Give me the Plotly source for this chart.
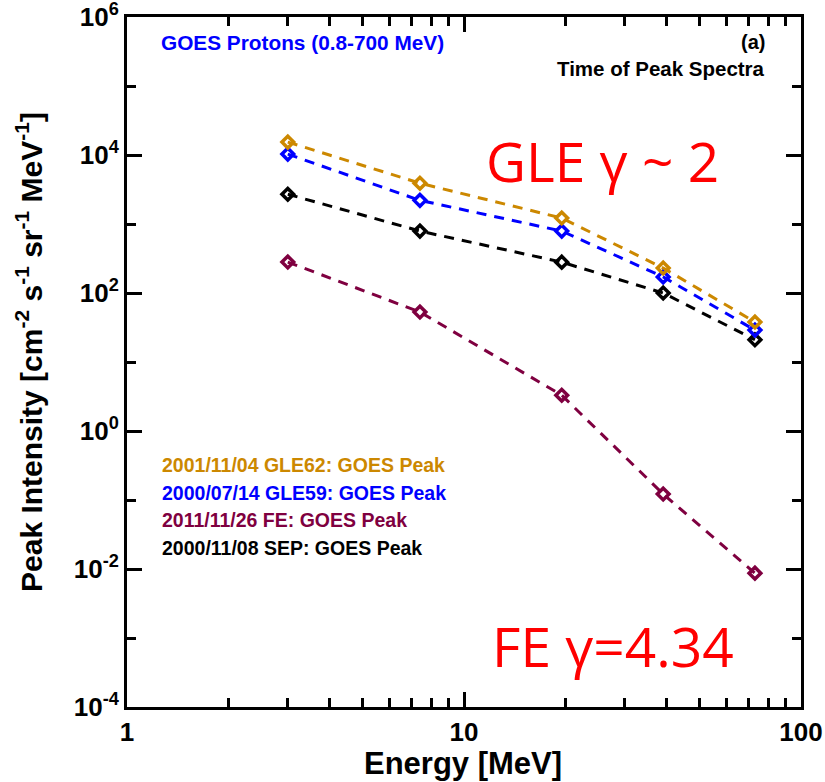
import plotly.graph_objects as go

# Proton energy channels (MeV)
energy = [3.0, 7.4, 19.5, 39.0, 73.0]

# Peak intensities [cm^-2 s^-1 sr^-1 MeV^-1]
gle62 = [1.54e4, 3.9e3, 1.22e3, 230, 38]
gle59 = [1.03e4, 2.2e3, 790, 171, 29]
fe_2011 = [281, 53, 3.3, 0.122, 0.0087]
sep_2000 = [2.7e3, 790, 280, 100, 21]

series_names = [
    "2001/11/04 GLE62: GOES Peak",
    "2000/07/14 GLE59: GOES Peak",
    "2011/11/26 FE: GOES Peak",
    "2000/11/08 SEP: GOES Peak",
]
series_values = [gle62, gle59, fe_2011, sep_2000]
series_colors = ["#CC8800", "#0000FF", "#7F0040", "#000000"]

y_tick_vals = [1e-4, 1e-2, 1e0, 1e2, 1e4, 1e6]
y_tick_text = ["<b>10<sup>-4</sup></b>", "<b>10<sup>-2</sup></b>", "<b>10<sup>0</sup></b>",
               "<b>10<sup>2</sup></b>", "<b>10<sup>4</sup></b>", "<b>10<sup>6</sup></b>"]
y_minor_vals = [1e-3, 1e-1, 1e1, 1e3, 1e5]

x_tick_vals = [1, 10, 100]
x_tick_text = ["<b>1</b>", "<b>10</b>", "<b>100</b>"]
x_minor_vals = [2, 3, 4, 5, 6, 7, 8, 9, 20, 30, 40, 50, 60, 70, 80, 90]

# Plot-area geometry in pixels (used to place the text labels)
PX_L, PX_R, PX_T, PX_B = 127, 801, 17, 707
PW, PH = PX_R - PX_L, PX_B - PX_T


def px(x):
    return (x - PX_L) / PW


def py(y):
    return (PX_B - y) / PH


fig = go.Figure()

# Draw back-to-front so the gold curve sits above the blue one
draw_order = [3, 2, 1, 0]
for i in draw_order:
    fig.add_trace(go.Scatter(
        x=energy, y=series_values[i], mode="lines+markers",
        name=series_names[i],
        line=dict(color=series_colors[i], width=3, dash="10px,8px"),
        marker=dict(symbol="diamond-open", size=9,
                    line=dict(color=series_colors[i], width=3.5)),
        showlegend=False,
    ))

label_font = "Liberation Sans, Arial, sans-serif"

# Series labels, stacked in the lower-left corner
legend_y = [465, 493, 520, 548]
for name, color, ly in zip(series_names, series_colors, legend_y):
    fig.add_annotation(
        xref="paper", yref="paper", x=px(160), y=py(ly),
        text=f"<b>{name}</b>", showarrow=False, xanchor="left", yanchor="middle",
        font=dict(family=label_font, size=19.5, color=color),
    )

fig.add_annotation(
    xref="paper", yref="paper", x=px(159), y=py(42),
    text="<b>GOES Protons (0.8-700 MeV)</b>", showarrow=False,
    xanchor="left", yanchor="middle",
    font=dict(family=label_font, size=20.8, color="#0000FF"),
)
fig.add_annotation(
    xref="paper", yref="paper", x=px(767), y=py(42),
    text="<b>(a)</b>", showarrow=False, xanchor="right", yanchor="middle",
    font=dict(family=label_font, size=20, color="#000000"),
)
fig.add_annotation(
    xref="paper", yref="paper", x=px(767), y=py(68),
    text="<b>Time of Peak Spectra</b>", showarrow=False,
    xanchor="right", yanchor="middle",
    font=dict(family=label_font, size=20.5, color="#000000"),
)

# Spectral index notes
fig.add_annotation(
    xref="paper", yref="paper", x=px(484), y=py(160),
    text="GLE γ ~ 2", showarrow=False, xanchor="left", yanchor="middle",
    font=dict(family="Open Sans, sans-serif", size=55, color="#FF0000"),
)
fig.add_annotation(
    xref="paper", yref="paper", x=px(490), y=py(645),
    text="FE γ=4.34", showarrow=False, xanchor="left", yanchor="middle",
    font=dict(family="Open Sans, sans-serif", size=55, color="#FF0000"),
)

# Axis titles
fig.add_annotation(
    xref="paper", yref="paper", x=px(29), y=py(352),
    text="<b>Peak Intensity [cm<sup>-2</sup> s<sup>-1</sup> sr<sup>-1</sup> MeV<sup>-1</sup>]</b>",
    showarrow=False, textangle=-90, xanchor="center", yanchor="middle",
    font=dict(family=label_font, size=30, color="#000000"),
)
fig.add_annotation(
    xref="paper", yref="paper", x=px(463), y=py(763),
    text="<b>Energy [MeV]</b>", showarrow=False, xanchor="center", yanchor="middle",
    font=dict(family=label_font, size=31, color="#000000"),
)

fig.update_xaxes(
    type="log", range=[0, 2], automargin=False, ticklabeloverflow="allow",
    tickvals=x_tick_vals, ticktext=x_tick_text,
    ticks="inside", ticklen=15, tickwidth=2.5, tickcolor="#000",
    minor=dict(tickvals=x_minor_vals, ticks="inside", ticklen=9,
               tickwidth=2.5, tickcolor="#000"),
    showline=True, linecolor="#000", linewidth=3, mirror="allticks",
    showgrid=False, zeroline=False,
    tickfont=dict(family=label_font, size=26, color="#000"),
)
fig.update_yaxes(
    type="log", range=[-4, 6], automargin=False, ticklabeloverflow="allow",
    tickvals=y_tick_vals, ticktext=y_tick_text,
    ticks="inside", ticklen=15, tickwidth=2.5, tickcolor="#000",
    minor=dict(tickvals=y_minor_vals, ticks="inside", ticklen=9,
               tickwidth=2.5, tickcolor="#000"),
    showline=True, linecolor="#000", linewidth=3, mirror="allticks",
    showgrid=False, zeroline=False,
    tickfont=dict(family=label_font, size=26, color="#000"),
)

fig.update_layout(
    width=825, height=782,
    margin=dict(l=PX_L, r=825 - PX_R, t=PX_T, b=782 - PX_B),
    paper_bgcolor="white", plot_bgcolor="white",
    showlegend=False,
)

fig.write_html("out.html")
